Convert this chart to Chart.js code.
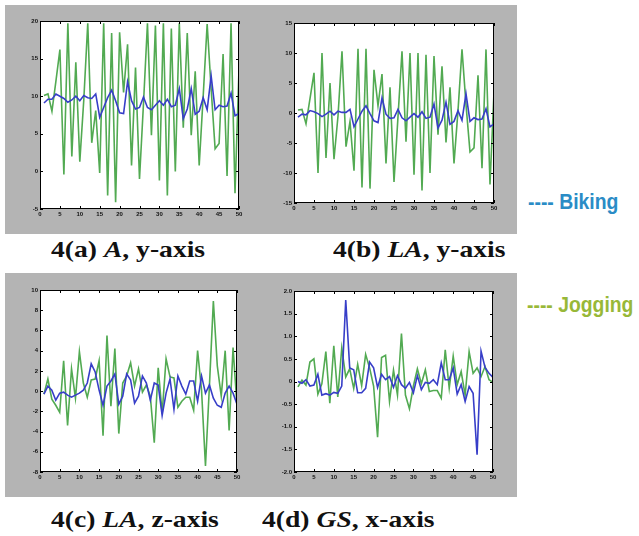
<!DOCTYPE html>
<html><head><meta charset="utf-8">
<script src="https://cdn.jsdelivr.net/npm/chart.js@4"></script>
<style>
body{margin:0;width:639px;height:536px;background:#fff;position:relative;overflow:hidden}
.panel{position:absolute;background:#b4b4b4}
.cv{position:absolute}
.cap{position:absolute;font-family:"Liberation Serif","Times New Roman",serif;font-weight:bold;font-size:24px;line-height:24px;white-space:nowrap;color:#111;transform:scaleX(1.15);transform-origin:0 0}
.leg{position:absolute;font-family:"Liberation Sans",Arial,sans-serif;font-weight:bold;font-size:22px;line-height:24px;white-space:nowrap;transform:scaleX(0.88);transform-origin:0 0}
</style></head>
<body>
<div class="panel" style="left:5px;top:5px;width:260px;height:229px"></div>
<div class="panel" style="left:265px;top:5px;width:252px;height:229px"></div>
<div class="panel" style="left:5px;top:273px;width:260px;height:224px"></div>
<div class="panel" style="left:265px;top:273px;width:252px;height:224px"></div>
<div class="cv" style="left:5px;top:5px;width:260px;height:227px"><canvas id="ca"></canvas></div>
<div class="cv" style="left:265px;top:5px;width:252px;height:227px"><canvas id="cb"></canvas></div>
<div class="cv" style="left:5px;top:273px;width:260px;height:224px"><canvas id="cc"></canvas></div>
<div class="cv" style="left:265px;top:273px;width:252px;height:224px"><canvas id="cd"></canvas></div>
<div class="cap" style="left:51px;top:237px">4(a) <i>A</i>, y-axis</div>
<div class="cap" style="left:333px;top:237px">4(b) <i>LA</i>, y-axis</div>
<div class="cap" style="left:51px;top:507px">4(c) <i>LA</i>, z-axis</div>
<div class="cap" style="left:262px;top:507px">4(d) <i>GS</i>, x-axis</div>
<div class="leg" style="left:528px;top:190px;color:#2a8cc6">---- Biking</div>
<div class="leg" style="left:527px;top:293px;color:#98b838">---- Jogging</div>
<script>
const samples = [1,2,3,4,5,6,7,8,9,10,11,12,13,14,15,16,17,18,19,20,21,22,23,24,25,26,27,28,29,30,31,32,33,34,35,36,37,38,39,40,41,42,43,44,45,46,47,48,49,50];
const xTicks = [0,5,10,15,20,25,30,35,40,45,50];

const jogA = [10.1,10.3,8.0,12.0,16.2,-0.4,19.7,2.0,14.5,1.3,9.5,19.7,3.8,8.1,-0.2,19.7,-3.2,18.4,-4.1,18.5,10.5,16.9,0.8,13.8,-1.0,9.0,19.7,4.8,19.4,-1.2,19.7,-3.2,19.0,0.0,19.7,5.8,18.4,4.8,13.3,0.8,10.0,19.6,11.0,3.0,3.7,15.6,-0.6,19.7,-2.9,13.6];
const bikeA = [9.1,9.6,9.6,10.3,10.0,9.7,9.2,9.5,10.0,9.4,10.1,9.8,9.7,10.3,7.2,8.5,9.8,10.8,9.4,7.8,7.7,11.9,9.4,8.3,8.5,9.9,8.5,8.2,8.8,9.4,8.8,9.6,8.6,8.8,11.0,7.0,8.3,11.0,7.6,8.0,9.8,8.2,12.7,8.2,8.8,8.6,8.7,10.4,7.4,7.7];
const yTicksA = [-5,0,5,10,15,20];

const jogB = [0.5,0.6,-1.8,2.4,6.7,-10.0,10.0,-7.5,5.0,-7.7,-0.5,10.3,-5.6,-1.4,-9.6,10.7,-12.4,10.7,-12.6,7.2,1.2,6.5,-8.4,4.3,-11.5,-0.6,10.3,-4.8,10.0,-10.3,10.0,-12.9,9.7,-10.0,9.5,-3.6,7.8,-4.9,4.3,-8.4,0.4,10.6,1.4,-6.5,-5.8,6.3,-9.2,10.6,-11.9,3.5];
const bikeB = [-0.7,-0.2,-0.3,0.4,0.2,-0.1,-0.6,-0.2,0.3,-0.3,0.3,0.1,0.1,0.6,-2.3,-1.0,0.3,1.2,-0.1,-1.3,-1.6,2.5,-0.2,-0.9,-0.8,0.6,-0.8,-1.3,-0.7,-0.1,-0.7,0.2,-0.9,-0.7,1.5,-2.5,-1.2,1.8,-1.9,-1.4,0.4,-1.2,3.2,-1.4,-0.8,-1.1,-1.0,0.7,-2.3,-1.8];
const yTicksB = [-15,-10,-5,0,5,10,15];

const jogC = [-0.3,1.2,-0.8,-1.4,-2.1,3.0,-3.4,2.2,-0.7,3.9,0.8,-0.6,1.1,1.2,3.0,-4.4,5.5,-1.5,4.2,-4.2,0.8,1.5,2.8,0.5,2.2,-0.1,0.6,-0.5,-5.1,2.3,-2.2,3.2,1.4,1.3,-1.6,-1.0,-0.6,-0.6,-1.9,4.0,0.1,-7.4,0.5,8.9,2.5,-0.5,4.0,-3.9,4.3,-1.5];
const bikeC = [-0.3,0.5,0.1,-0.9,-0.2,-0.1,-0.4,-0.6,-0.4,-0.2,0.1,0.8,2.7,1.9,0.1,-1.4,0.5,1.0,1.7,-1.3,-0.5,1.7,1.1,-1.2,-0.5,1.5,0.8,-0.9,0.8,0.6,-2.4,-0.2,1.2,-1.8,1.5,0.5,-0.3,1.0,1.0,-1.0,1.5,-0.2,0.6,-0.7,-1.4,-1.6,-0.2,0.5,-0.2,-1.3];
const yTicksC = [-8,-6,-4,-2,0,2,4,6,8,10];

const jogD = [-0.12,0.03,-0.08,0.43,0.5,-0.28,-0.05,0.66,-0.48,0.79,-0.34,0.74,0.1,0.28,-0.15,0.38,-0.09,0.6,0.3,-0.1,-1.23,0.53,0.58,-0.44,0.25,-0.3,1.06,-0.3,-0.6,-0.1,0.28,-0.05,0.26,-0.22,-0.2,-0.2,-0.37,0.7,-0.15,0.56,-0.07,0.22,-0.3,0.66,0.18,0.3,0.11,0.33,0.04,-0.02];
const bikeD = [0.0,-0.04,0.04,-0.1,-0.08,0.16,-0.3,-0.27,-0.3,-0.24,-0.26,-0.1,1.8,0.3,0.26,-0.25,-0.25,-0.15,0.43,0.3,-0.13,0.16,0.04,0.11,-0.13,0.13,-0.07,-0.15,-0.02,-0.25,0.13,-0.18,-0.02,-0.04,0.04,-0.07,0.41,0.04,0.04,0.3,-0.28,-0.07,-0.44,-0.11,-0.26,-1.62,0.67,0.31,0.18,0.09];
const yTicksD = [-2,-1.5,-1,-0.5,0,0.5,1,1.5,2];

const YW = 14, XH = 10;
const framePlugin = {
  id: 'frame',
  beforeDatasetsDraw(chart) {
    const {ctx, chartArea: a} = chart;
    ctx.save();
    ctx.fillStyle = '#ffffff';
    ctx.fillRect(a.left, a.top, a.right - a.left, a.bottom - a.top);
    ctx.restore();
  },
  afterDatasetsDraw(chart) {
    const {ctx, chartArea: a, scales: {x, y}} = chart;
    ctx.save();
    ctx.strokeStyle = '#000';
    ctx.lineWidth = 1;
    ctx.strokeRect(a.left + 0.5, a.top + 0.5, a.right - a.left - 1, a.bottom - a.top - 1);
    ctx.beginPath();
    x.ticks.forEach(t => {
      const p = Math.round(x.getPixelForValue(t.value)) + 0.5;
      ctx.moveTo(p, a.bottom); ctx.lineTo(p, a.bottom - 3);
      ctx.moveTo(p, a.top); ctx.lineTo(p, a.top + 3);
    });
    y.ticks.forEach(t => {
      const p = Math.round(y.getPixelForValue(t.value)) + 0.5;
      ctx.moveTo(a.left, p); ctx.lineTo(a.left + 3, p);
      ctx.moveTo(a.right, p); ctx.lineTo(a.right - 3, p);
    });
    ctx.stroke();
    ctx.restore();
  }
};

function makeChart(id, box, rect, yTicks, jog, bike) {
  const pad = {
    left: rect.l - box.x - YW,
    top: rect.t - box.y,
    right: box.x + box.w - rect.r,
    bottom: box.y + box.h - rect.b - XH
  };
  const tickFont = {family: 'Liberation Sans, Arial, sans-serif', size: 6, weight: 'bold'};
  const yMin = yTicks[0], yMax = yTicks[yTicks.length - 1];
  new Chart(document.getElementById(id), {
    type: 'line',
    data: {
      datasets: [
        {label: 'Biking', data: samples.map((s, i) => ({x: s, y: bike[i]})), borderColor: 'rgb(55,62,200)', borderWidth: 1.6, pointRadius: 0, tension: 0},
        {label: 'Jogging', data: samples.map((s, i) => ({x: s, y: jog[i]})), borderColor: 'rgb(82,170,82)', borderWidth: 1.6, pointRadius: 0, tension: 0}
      ]
    },
    options: {
      responsive: true, maintainAspectRatio: false, animation: false,
      layout: {padding: pad},
      plugins: {legend: {display: false}, tooltip: {enabled: false}},
      scales: {
        x: {type: 'linear', min: xTicks[0], max: xTicks[xTicks.length - 1],
            afterFit: s => { s.height = XH; },
            afterBuildTicks: s => { s.ticks = xTicks.map(v => ({value: v})); },
            grid: {display: false, drawTicks: false}, border: {display: false},
            ticks: {font: tickFont, color: '#111', padding: 2, maxRotation: 0, autoSkip: false}},
        y: {type: 'linear', min: yMin, max: yMax,
            afterFit: s => { s.width = YW; },
            afterBuildTicks: s => { s.ticks = yTicks.map(v => ({value: v})); },
            grid: {display: false, drawTicks: false}, border: {display: false},
            ticks: {font: tickFont, color: '#111', padding: 2, autoSkip: false}}
      }
    },
    plugins: [framePlugin]
  });
}

makeChart('ca', {x:5,y:5,w:260,h:227}, {l:40,t:21,r:239,b:209}, yTicksA, jogA, bikeA);
makeChart('cb', {x:265,y:5,w:252,h:227}, {l:294,t:23,r:494,b:203}, yTicksB, jogB, bikeB);
makeChart('cc', {x:5,y:273,w:260,h:224}, {l:40,t:290,r:237,b:472}, yTicksC, jogC, bikeC);
makeChart('cd', {x:265,y:273,w:252,h:224}, {l:294,t:291,r:493,b:472}, yTicksD, jogD, bikeD);
</script>
</body></html>
